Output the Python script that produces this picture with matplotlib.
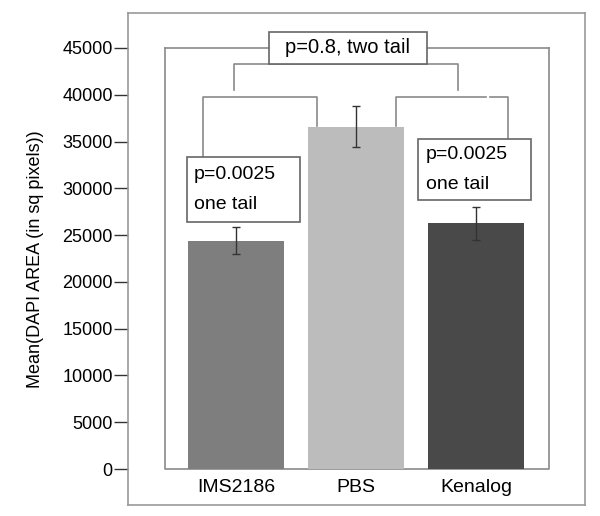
import matplotlib.pyplot as plt
from matplotlib.patches import Rectangle

plt.rcParams['font.family'] = ['Liberation Sans', 'DejaVu Sans']

categories = ['IMS2186', 'PBS', 'Kenalog']
means = [24400, 36600, 26250]
errors = [1450, 2200, 1750]
bar_colors = ['#7e7e7e', '#bcbcbc', '#494949']
yticks = [0, 5000, 10000, 15000, 20000, 25000, 30000, 35000, 40000, 45000]
p_labels = ['p=0.8, two tail', 'p=0.0025\none tail', 'p=0.0025\none tail']

line_c = '#8a8a8a'

fig = plt.figure(figsize=(6, 5.16), dpi=100)
ax = fig.add_axes([0.2133, 0.0213, 0.7617, 0.9535])

x = range(len(categories))
ax.bar(x, means, width=0.8, color=bar_colors, zorder=2)
ax.errorbar(x, means, yerr=errors, fmt='none', ecolor='#333333', elinewidth=1,
            capsize=3, capthick=1, zorder=3)

ax.set_xlim(-0.9, 2.908)
ax.set_ylim(-3846, 48740)

# inner frame / two-tail bracket
ax.plot([-0.592, -0.592, 2.608, 2.608], [45000, 0, 0, 45000], color=line_c, lw=1.2, zorder=1)
ax.plot([-0.592, 2.608], [45000, 45000], color=line_c, lw=1.2, zorder=1)
ax.add_patch(Rectangle((0.275, 43300), 1.317, 3400, facecolor='white', edgecolor='#666666', lw=1.2, zorder=4))
ax.text(0.933, 45000, p_labels[0], fontsize=14.5, va='center', ha='center', zorder=5)

# IMS2186 vs Kenalog bracket
ax.plot([-0.017, -0.017, 1.85, 1.85], [40490, 43270, 43270, 40490], color=line_c, lw=1.2, zorder=1)

# IMS2186 vs PBS bracket
ax.plot([-0.275, -0.275, 0.675, 0.675], [32800, 39740, 39740, 36645], color=line_c, lw=1.2, zorder=1)
ax.add_patch(Rectangle((-0.408, 26390), 0.941, 6940, facecolor='white', edgecolor='#666666', lw=1.2, zorder=4))
ax.text(-0.35, 29860, p_labels[1], fontsize=14, va='center', ha='left', linespacing=2.0, zorder=5)

# PBS vs Kenalog bracket
ax.plot([1.333, 1.333, 2.083], [36645, 39740, 39740], color=line_c, lw=1.2, zorder=1)
ax.plot([2.117, 2.267, 2.267], [39740, 39740, 35260], color=line_c, lw=1.2, zorder=1)
ax.add_patch(Rectangle((1.517, 28740), 0.941, 6520, facecolor='white', edgecolor='#666666', lw=1.2, zorder=4))
ax.text(1.58, 32000, p_labels[2], fontsize=14, va='center', ha='left', linespacing=2.0, zorder=5)

# category labels inside the frame
for i, c in enumerate(categories):
    ax.text(i, -2000, c, fontsize=14, ha='center', va='center')

ax.set_xticks([])
ax.set_yticks(yticks)
ax.set_yticklabels([str(v) for v in yticks], fontsize=13)
ax.tick_params(axis='y', length=10, width=1, color='#333333', pad=1)
for s in ax.spines.values():
    s.set_color('#999999')
    s.set_linewidth(1.2)

ax.set_ylabel('Mean(DAPI AREA (in sq pixels))', fontsize=13, labelpad=13)

plt.savefig('out.png', dpi=100)
